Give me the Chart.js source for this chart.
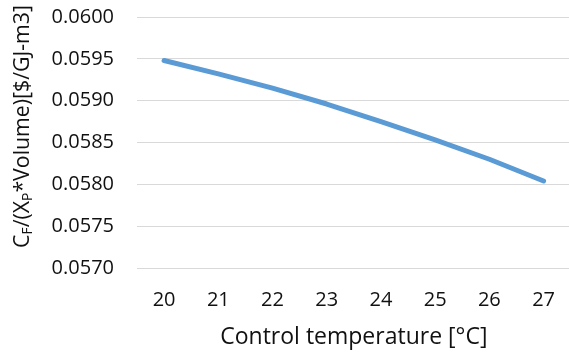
<!DOCTYPE html>
<html>
<head>
<meta charset="utf-8">
<script src="https://cdn.jsdelivr.net/npm/chart.js@4"></script>
<style>
  html, body { margin: 0; padding: 0; background: #fff; overflow: hidden; }
  #wrap { width: 575px; height: 354px; }
</style>
</head>
<body>
<div id="wrap"><canvas id="c" width="575" height="354"></canvas></div>
<script>
// Data
const categories = ['20', '21', '22', '23', '24', '25', '26', '27'];
const costValues = [0.05948, 0.05932, 0.05915, 0.05896, 0.05875, 0.05853, 0.05830, 0.05804];
const yTickMin = 0.0570;
const yTickMax = 0.0600;
const yTickStep = 0.0005;
const xTitle = 'Control temperature [°C]';
const yTitleParts = [
  { text: 'C', sub: false },
  { text: 'F', sub: true },
  { text: '/(X', sub: false },
  { text: 'P', sub: true },
  { text: '*Volume)[$/GJ-m3]', sub: false }
];

const FONT = '"Open Sans"';
const TEXT_COLOR = '#111111';

const yTitlePlugin = {
  id: 'yTitle',
  afterDraw(chart) {
    const ctx = chart.ctx;
    const targetLen = 243;
    const cx = 21, cy = 126.5;
    ctx.save();
    const measure = (size) => {
      let t = 0;
      for (const p of yTitleParts) {
        ctx.font = (p.sub ? size * 0.65 : size) + 'px ' + FONT;
        t += ctx.measureText(p.text).width;
      }
      return t;
    };
    const size = 20 * targetLen / measure(20);
    const subSize = size * 0.65;
    const total = measure(size);
    ctx.translate(cx, cy);
    ctx.rotate(-Math.PI / 2);
    ctx.fillStyle = TEXT_COLOR;
    ctx.textBaseline = 'alphabetic';
    ctx.textAlign = 'left';
    let x = -total / 2;
    const base = size * 0.36;
    for (const p of yTitleParts) {
      ctx.font = (p.sub ? subSize : size) + 'px ' + FONT;
      ctx.fillText(p.text, x, p.sub ? base + size * 0.15 : base);
      x += ctx.measureText(p.text).width;
    }
    ctx.restore();
  }
};

new Chart(document.getElementById('c'), {
  type: 'line',
  data: {
    labels: categories,
    datasets: [{
      data: costValues,
      borderColor: '#5B9BD5',
      borderWidth: 5,
      borderCapStyle: 'round',
      borderJoinStyle: 'round',
      pointRadius: 0,
      tension: 0,
      fill: false
    }]
  },
  options: {
    responsive: false,
    animation: false,
    devicePixelRatio: 1,
    layout: { padding: { top: 17, left: 0, right: 0, bottom: 0 } },
    plugins: { legend: { display: false }, tooltip: { enabled: false } },
    scales: {
      x: {
        offset: true,
        grid: { display: false, drawTicks: false },
        border: { display: false },
        ticks: { color: TEXT_COLOR, font: { family: FONT, size: 20 }, padding: 20, maxRotation: 0 },
        title: { display: true, text: xTitle, color: TEXT_COLOR, font: { family: FONT, size: 23 }, padding: { top: 0, bottom: 3 } },
        afterFit(scale) { scale.height = 86; }
      },
      y: {
        min: yTickMin,
        max: yTickMax,
        grid: { color: '#D9D9D9', lineWidth: 1, drawTicks: false },
        border: { display: false },
        ticks: {
          stepSize: yTickStep,
          color: TEXT_COLOR,
          font: { family: FONT, size: 20 },
          padding: 23,
          callback: (v) => v.toFixed(4)
        },
        afterFit(scale) {
          scale.width = 137;
          scale.paddingTop = 0;
          scale.paddingBottom = 0;
        }
      }
    }
  },
  plugins: [yTitlePlugin]
});
</script>
</body>
</html>
